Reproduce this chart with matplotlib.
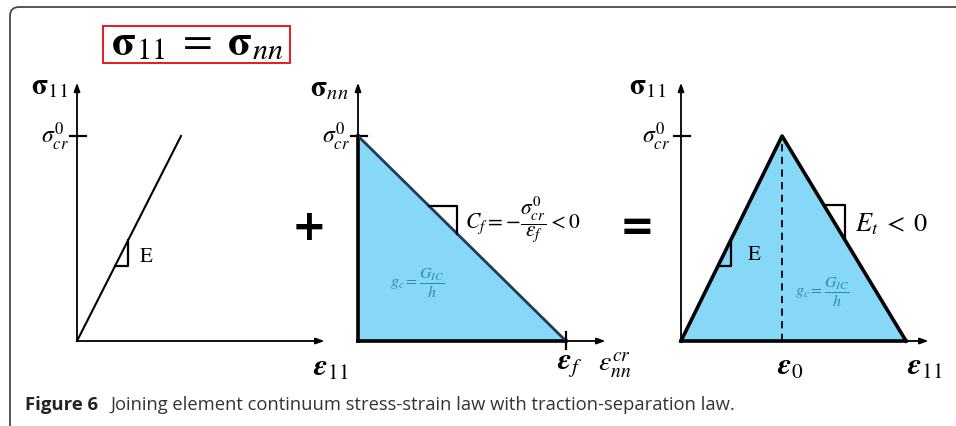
import matplotlib
matplotlib.use("Agg")
import matplotlib.pyplot as plt
from matplotlib.patches import Polygon, FancyBboxPatch, Rectangle
from matplotlib.mathtext import MathTextParser

plt.rcParams['mathtext.fontset'] = 'stix'
plt.rcParams['font.family'] = ['STIXGeneral', 'DejaVu Sans']

# ---------------- data (normalised units: sigma_cr = 1, eps_f = 1) ----------------
sigma_cr = 1.0
# panel 1: linear elastic law
p1_strain = [0.0, 0.5]
p1_stress = [0.0, 1.0]
p1_E_tri_stress = [0.364, 0.495]
# panel 2: traction-separation (linear softening)
p2_strain = [0.0, 0.0, 1.0]
p2_stress = [0.0, 1.0, 0.0]
eps_f = 1.0
p2_slope_stress = [0.659, 0.524]
# panel 3: combined law
p3_strain = [0.0, 0.486, 1.082]
p3_stress = [0.0, 1.0, 0.0]
eps_0 = 0.486
p3_E_tri_stress = [0.364, 0.495]
p3_Et_tri_stress = [0.663, 0.493]
axis_len_x = 1.19
axis_len_y = 1.26

# bold italic epsilon if supported
_parser = MathTextParser('agg')
try:
    _parser.parse(r'$\mathbfit{\varepsilon}$', dpi=100)
    EPS = r'\mathbfit{\varepsilon}'
except Exception:
    EPS = r'\varepsilon'

# ---------------- layout ----------------
W, H = 956, 427
fig = plt.figure(figsize=(W / 100, H / 100), dpi=100)
PX_X, PX_Y = 208.0, 205.0     # pixels per unit
ORIG_Y = 342
origins_x = [77, 358, 681]

bg = fig.add_axes([0, 0, 1, 1])
bg.set_xlim(0, W)
bg.set_ylim(H, 0)
bg.axis('off')

# outer rounded frame (extends past right/bottom edges)
bg.add_patch(FancyBboxPatch((10, 8), 1000, 500, boxstyle="round,pad=0,rounding_size=9",
                            fill=False, ec='#4a4a4a', lw=1.3))

# title box
bg.add_patch(Rectangle((103, 27), 187, 37, fill=False, ec='#e8191f', lw=1.4))
bg.text(197, 44, r'$\mathbf{\sigma}_{11}\;=\;\mathbf{\sigma}_{nn}$', fontsize=31,
        ha='center', va='center')

bg.text(309, 228, '+', fontsize=30, fontweight='bold', ha='center', va='center',
        family='DejaVu Sans')
bg.text(637, 228, '=', fontsize=30, fontweight='bold', ha='center', va='center',
        family='DejaVu Sans')

# caption
bg.text(25, 405, 'Figure 6', fontsize=13.3, fontweight='bold', ha='left', va='center',
        family='Open Sans', color='#222222')
bg.text(110, 405, 'Joining element continuum stress-strain law with traction-separation law.',
        fontsize=13.2, ha='left', va='center', family='Open Sans', color='#333333')

FILL = '#87d8f6'
GC = '#2f8aa6'


def panel(ox):
    ax = fig.add_axes([0, 0, 1, 1])
    ax.set_xlim(-ox / PX_X, (W - ox) / PX_X)
    ax.set_ylim(-(H - ORIG_Y) / PX_Y, ORIG_Y / PX_Y)
    ax.axis('off')
    ax.patch.set_alpha(0)
    ax.annotate('', xy=(axis_len_x, 0), xytext=(0, 0),
                arrowprops=dict(arrowstyle='-|>,head_length=0.5,head_width=0.18',
                                lw=1.3, color='black', shrinkA=0, shrinkB=0))
    ax.annotate('', xy=(0, axis_len_y), xytext=(0, 0),
                arrowprops=dict(arrowstyle='-|>,head_length=0.5,head_width=0.18',
                                lw=1.3, color='black', shrinkA=0, shrinkB=0))
    ax.plot([-0.035, 0.045], [sigma_cr, sigma_cr], color='black', lw=1.6)
    return ax


# ---- panel 1 ----
ax1 = panel(origins_x[0])
ax1.plot(p1_strain, p1_stress, color='black', lw=1.5)
k1 = p1_strain[1] / p1_stress[1]
a, b = p1_E_tri_stress
ax1.plot([a * k1, b * k1, b * k1], [a, a, b], color='black', lw=1.6)
ax1.text(0.3, 0.415, 'E', fontsize=15, ha='left', va='center')
ax1.text(-0.13, 1.24, r'$\mathbf{\sigma}_{11}$', fontsize=21, ha='center', va='center')
ax1.text(-0.04, 1.0, r'$\sigma^{0}_{cr}$', fontsize=17, ha='right', va='center')
ax1.text(1.22, -0.13, r'$%s_{11}$' % EPS, fontsize=22, ha='center', va='center')

# ---- panel 2 ----
ax2 = panel(origins_x[1])
ax2.add_patch(Polygon(list(zip(p2_strain, p2_stress)), closed=True, fc=FILL, ec='none'))
ax2.plot([0, 0], [0, sigma_cr], color='black', lw=2.6)
ax2.plot([0, eps_f], [0, 0], color='black', lw=2.6)
ax2.plot([0, eps_f], [sigma_cr, 0], color='#1f3b57', lw=2.0)
ax2.plot([eps_f, eps_f], [-0.04, 0.045], color='black', lw=1.6)
s_hi, s_lo = p2_slope_stress
ax2.plot([1 - s_hi, 1 - s_lo, 1 - s_lo], [s_hi, s_hi, s_lo], color='black', lw=1.6)
ax2.text(0.514, 0.595, r'$C_f=-\dfrac{\sigma^{0}_{cr}}{\varepsilon_f}<0$', fontsize=15.5,
         ha='left', va='center')
ax2.text(0.284, 0.288, r'$g_c=\dfrac{G_{IC}}{h}$', fontsize=11.5, ha='center', va='center',
         color=GC)
ax2.text(-0.135, 1.23, r'$\mathbf{\sigma}_{nn}$', fontsize=21, ha='center', va='center')
ax2.text(-0.04, 1.0, r'$\sigma^{0}_{cr}$', fontsize=17, ha='right', va='center')
ax2.text(1.02, -0.115, r'$%s_f$' % EPS, fontsize=22, ha='center', va='center')
ax2.text(1.235, -0.115, r'$\varepsilon^{cr}_{nn}$', fontsize=20, ha='center', va='center')

# ---- panel 3 ----
ax3 = panel(origins_x[2])
ax3.add_patch(Polygon(list(zip(p3_strain, p3_stress)), closed=True, fc=FILL, ec='none'))
ax3.plot(p3_strain, p3_stress, color='black', lw=2.6)
ax3.plot([0, p3_strain[-1]], [0, 0], color='black', lw=2.6)
ax3.plot([eps_0, eps_0], [0, sigma_cr], color='black', lw=1.3, ls=(0, (4, 3)))
k3 = p3_strain[1] / p3_stress[1]
a, b = p3_E_tri_stress
ax3.plot([a * k3, b * k3, b * k3], [a, a, b], color='black', lw=1.6)
kd = p3_strain[2] - p3_strain[1]
s_hi, s_lo = p3_Et_tri_stress
x_hi = p3_strain[1] + (1 - s_hi) * kd
x_lo = p3_strain[1] + (1 - s_lo) * kd
ax3.plot([x_hi, x_lo, x_lo], [s_hi, s_hi, s_lo], color='black', lw=1.6)
ax3.text(0.322, 0.424, 'E', fontsize=15, ha='left', va='center')
ax3.text(0.837, 0.571, r'$E_t\;<\;0$', fontsize=19, ha='left', va='center')
ax3.text(0.678, 0.244, r'$g_c=\dfrac{G_{IC}}{h}$', fontsize=11.5, ha='center', va='center',
         color=GC)
ax3.text(-0.16, 1.24, r'$\mathbf{\sigma}_{11}$', fontsize=21, ha='center', va='center')
ax3.text(-0.053, 1.0, r'$\sigma^{0}_{cr}$', fontsize=17, ha='right', va='center')
ax3.text(0.524, -0.125, r'$%s_0$' % EPS, fontsize=22, ha='center', va='center')
ax3.text(1.17, -0.125, r'$%s_{11}$' % EPS, fontsize=22, ha='center', va='center')

fig.savefig('out.png', dpi=100)
